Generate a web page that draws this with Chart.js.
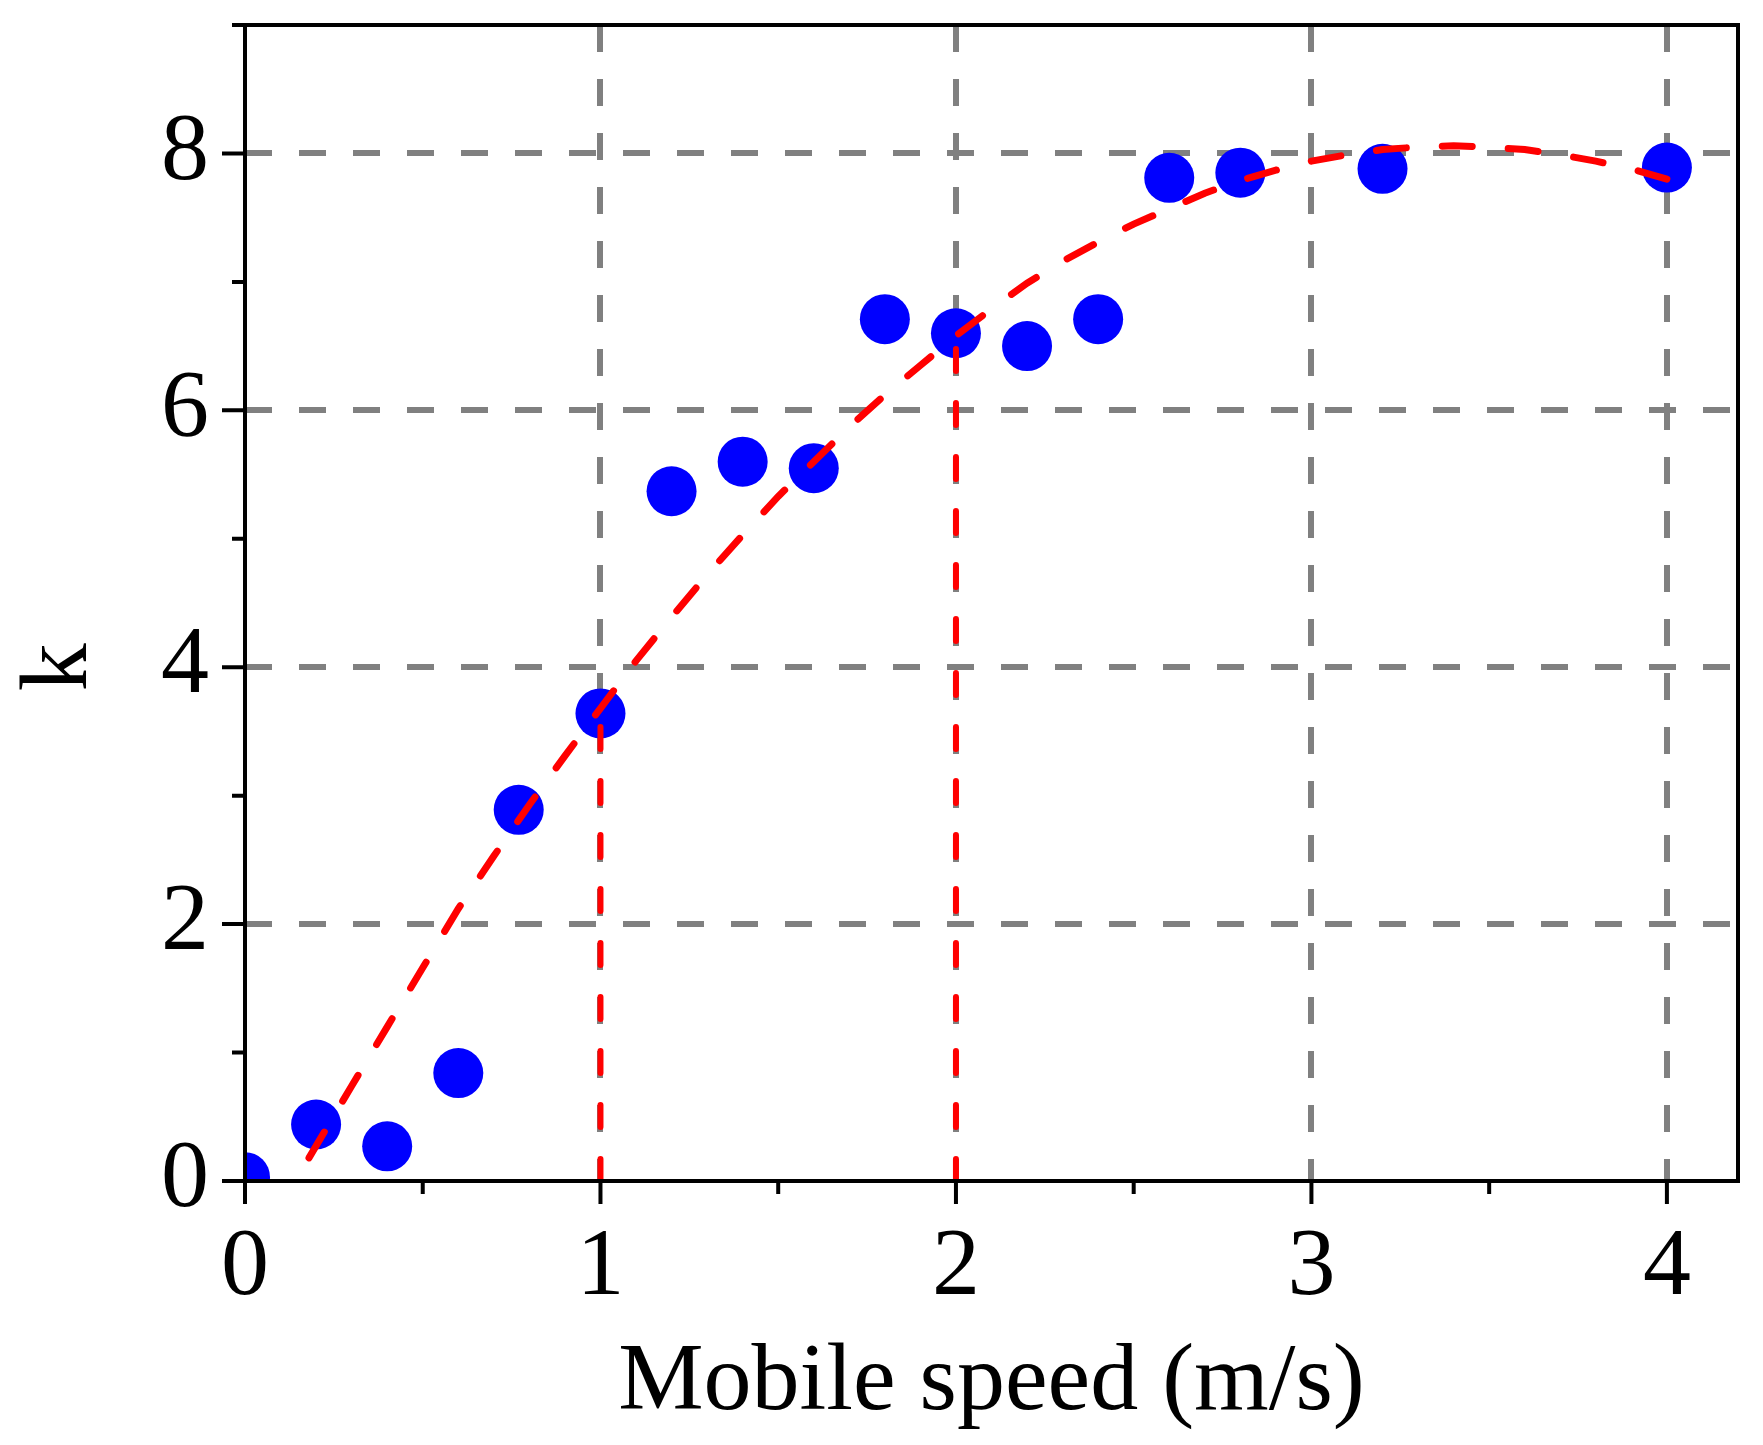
<!DOCTYPE html>
<html>
<head>
<meta charset="utf-8">
<script src="https://cdn.jsdelivr.net/npm/chart.js@4.4.1/dist/chart.umd.min.js"></script>
<style>
  html, body { margin: 0; padding: 0; background: #fff; }
  #wrap { width: 1763px; height: 1445px; }
</style>
</head>
<body>
<div id="wrap"><canvas id="myChart"></canvas></div>
<script>
// measured points
const speed = [0, 0.2, 0.4, 0.6, 0.77, 1.0, 1.2, 1.4, 1.6, 1.8, 2.0, 2.2, 2.4, 2.6, 2.8, 3.2, 4.0];
const kValues = [0.03, 0.44, 0.27, 0.84, 2.89, 3.64, 5.37, 5.6, 5.55, 6.71, 6.6, 6.5, 6.71, 7.81, 7.85, 7.88, 7.89];

// fitted curve
const fitSpeed = [0.18, 0.3, 0.4, 0.5, 0.6, 0.7, 0.8, 0.9, 1.0, 1.1, 1.2, 1.3, 1.4, 1.5, 1.6, 1.7, 1.8, 1.9, 2.0,
  2.1, 2.2, 2.3, 2.4, 2.5, 2.6, 2.7, 2.8, 2.9, 3.0, 3.1, 3.2, 3.3, 3.4, 3.5, 3.6, 3.7, 3.8, 3.9, 4.0];
const fitK = [0.18, 0.74, 1.2, 1.66, 2.12, 2.53, 2.93, 3.31, 3.68, 4.05, 4.39, 4.72, 5.03, 5.33, 5.6, 5.87, 6.12, 6.35, 6.58,
  6.79, 6.99, 7.16, 7.31, 7.45, 7.57, 7.69, 7.79, 7.87, 7.94, 7.99, 8.03, 8.05, 8.06, 8.05, 8.03, 7.99, 7.94, 7.88, 7.8];

// red vertical markers: [x, top k]
const markerX = [1, 2];
const markerTop = [3.64, 6.6];

// ticks
const xMajor = [0, 1, 2, 3, 4];
const xMinor = [0.5, 1.5, 2.5, 3.5];
const yMajor = [0, 2, 4, 6, 8];
const yMinor = [1, 3, 5, 7, 9];

const FONT = "'Liberation Serif', 'Times New Roman', serif";
const GRAY = "#808080";

const zip = (xs, ys) => xs.map((x, i) => ({ x: x, y: ys[i] }));
const asTicks = (vals) => vals.slice().sort((a, b) => a - b).map((v) => ({ value: v }));

const markerSets = markerX.map((x, i) => ({
  data: [{ x: x, y: 0 }, { x: x, y: markerTop[i] }],
  showLine: true,
  borderColor: "#ff0000",
  borderWidth: 6,
  borderDash: [22, 32],
  borderCapStyle: "round",
  pointRadius: 0,
  order: 1,
}));

// frame, tick marks and y title
const framePlugin = {
  id: "frame",
  afterDraw(chart) {
    const { ctx, chartArea: a, scales: { x, y } } = chart;
    ctx.save();
    ctx.strokeStyle = "#000";
    ctx.lineWidth = 4;
    ctx.strokeRect(a.left, a.top, a.right - a.left, a.bottom - a.top);
    ctx.beginPath();
    xMajor.concat(xMinor).forEach((v) => {
      const px = x.getPixelForValue(v);
      ctx.moveTo(px, a.bottom);
      ctx.lineTo(px, a.bottom + (xMajor.includes(v) ? 23 : 13));
    });
    yMajor.concat(yMinor).forEach((v) => {
      const py = y.getPixelForValue(v);
      ctx.moveTo(a.left, py);
      ctx.lineTo(a.left - (yMajor.includes(v) ? 23 : 13), py);
    });
    ctx.stroke();
    ctx.fillStyle = "#000";
    ctx.font = "96px " + FONT;
    ctx.textAlign = "center";
    ctx.textBaseline = "middle";
    ctx.translate(61, y.getPixelForValue(4.0));
    ctx.rotate(-Math.PI / 2);
    ctx.fillText("k", 0, 0);
    ctx.restore();
  },
};

const ctx = document.getElementById("myChart").getContext("2d");
const myChart = new Chart(ctx, {
  type: "scatter",
  data: {
    datasets: [
      {
        data: zip(speed, kValues),
        backgroundColor: "#0000ff",
        borderWidth: 0,
        pointRadius: 25,
        order: 2,
      },
      {
        data: zip(fitSpeed, fitK),
        showLine: true,
        borderColor: "#ff0000",
        borderWidth: 7,
        borderDash: [30, 36],
        borderCapStyle: "round",
        pointRadius: 0,
        order: 1,
      },
      ...markerSets,
    ],
  },
  options: {
    responsive: true,
    maintainAspectRatio: false,
    devicePixelRatio: 1,
    animation: false,
    events: [],
    layout: { padding: { top: 19, right: 14, left: 0, bottom: 0 } },
    plugins: { legend: { display: false }, tooltip: { enabled: false } },
    scales: {
      x: {
        type: "linear",
        min: 0,
        max: 4.2,
        afterBuildTicks: (s) => { s.ticks = asTicks(xMajor.concat(xMinor)); },
        afterFit: (s) => { s.height = 264; s.paddingLeft = 0; s.paddingRight = 0; },
        ticks: {
          autoSkip: false,
          maxRotation: 0,
          padding: 30,
          color: "#000",
          font: { family: FONT, size: 96 },
          callback: (v) => (xMajor.includes(v) ? String(v) : ""),
        },
        grid: {
          drawTicks: false,
          lineWidth: 6,
          color: (c) => (c.tick && xMajor.includes(c.tick.value) && c.tick.value !== 0 ? GRAY : "rgba(0,0,0,0)"),
        },
        border: { display: false, dash: [27, 27] },
        title: {
          display: true,
          text: "Mobile speed (m/s)",
          color: "#000",
          font: { family: FONT, size: 96 },
          padding: { top: 0, bottom: 4 },
        },
      },
      y: {
        type: "linear",
        min: 0,
        max: 9,
        afterBuildTicks: (s) => { s.ticks = asTicks(yMajor.concat(yMinor)); },
        afterFit: (s) => { s.width = 245; s.paddingTop = 0; s.paddingBottom = 0; },
        ticks: {
          autoSkip: false,
          padding: 36,
          color: "#000",
          font: { family: FONT, size: 96 },
          callback: (v) => (yMajor.includes(v) ? String(v) : ""),
        },
        grid: {
          drawTicks: false,
          lineWidth: 6,
          color: (c) => (c.tick && yMajor.includes(c.tick.value) && c.tick.value !== 0 ? GRAY : "rgba(0,0,0,0)"),
        },
        border: { display: false, dash: [27, 27] },
      },
    },
  },
  plugins: [framePlugin],
});
</script>
</body>
</html>
